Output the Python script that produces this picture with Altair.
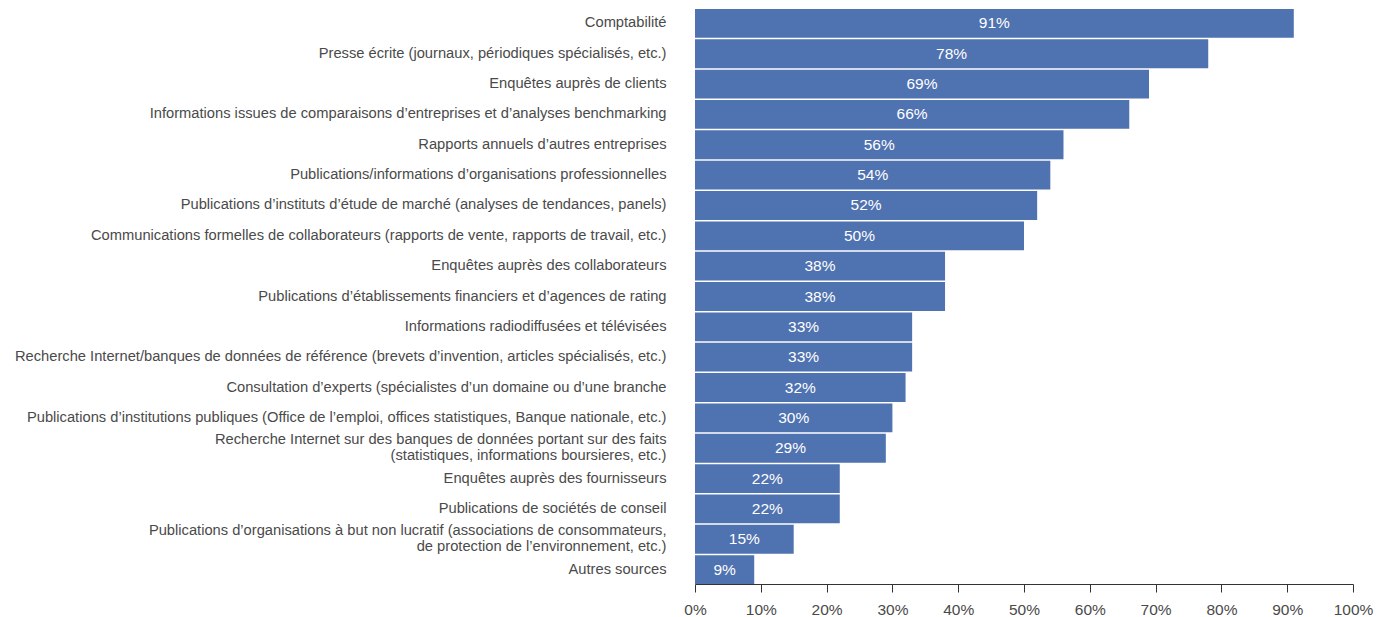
import altair as alt
import pandas as pd

categories = [
    "Comptabilité",
    "Presse écrite (journaux, périodiques spécialisés, etc.)",
    "Enquêtes auprès de clients",
    "Informations issues de comparaisons d’entreprises et d’analyses benchmarking",
    "Rapports annuels d’autres entreprises",
    "Publications/informations d’organisations professionnelles",
    "Publications d’instituts d’étude de marché (analyses de tendances, panels)",
    "Communications formelles de collaborateurs (rapports de vente, rapports de travail, etc.)",
    "Enquêtes auprès des collaborateurs",
    "Publications d’établissements financiers et d’agences de rating",
    "Informations radiodiffusées et télévisées",
    "Recherche Internet/banques de données de référence (brevets d’invention, articles spécialisés, etc.)",
    "Consultation d’experts (spécialistes d’un domaine ou d’une branche",
    "Publications d’institutions publiques (Office de l’emploi, offices statistiques, Banque nationale, etc.)",
    "Recherche Internet sur des banques de données portant sur des faits|(statistiques, informations boursieres, etc.)",
    "Enquêtes auprès des fournisseurs",
    "Publications de sociétés de conseil",
    "Publications d’organisations à but non lucratif (associations de consommateurs,|de protection de l’environnement, etc.)",
    "Autres sources",
]
values = [91, 78, 69, 66, 56, 54, 52, 50, 38, 38, 33, 33, 32, 30, 29, 22, 22, 15, 9]
tick_values = [0, 10, 20, 30, 40, 50, 60, 70, 80, 90, 100]

df = pd.DataFrame({"cat": categories, "value": values})

FONT = "Liberation Sans"
BAR = "#4f72b0"

y_enc = alt.Y(
    "cat:N",
    sort=None,
    title=None,
    scale=alt.Scale(paddingInner=0.05, paddingOuter=0),
    axis=alt.Axis(
        ticks=False,
        domain=False,
        labelPadding=29,
        labelLimit=0,
        labelFontSize=14.7,
        labelColor="#4a4a4a",
        labelFont=FONT,
        labelExpr="split(datum.label, '|')",
        labelLineHeight=16,
        labelOffset={"condition": {"test": "indexof(datum.value, '|') >= 0", "value": -8}, "value": 0},
    ),
)
x_scale = alt.Scale(domain=[0, 100], nice=False)

bars = alt.Chart(df).mark_bar(color=BAR).encode(
    x=alt.X(
        "value:Q",
        scale=x_scale,
        title=None,
        axis=alt.Axis(
            values=tick_values,
            labelExpr="datum.value + '%'",
            grid=False,
            tickSize=8,
            tickColor="#333333",
            domainColor="#333333",
            labelFontSize=15.5,
            labelColor="#4a4a4a",
            labelFont=FONT,
            labelPadding=10,
            labelFlush=False,
        ),
    ),
    y=y_enc,
)

text = alt.Chart(df).transform_calculate(
    mid="datum.value / 2", lab="datum.value + '%'"
).mark_text(color="white", fontSize=15.5, font=FONT, baseline="middle").encode(
    x=alt.X("mid:Q", scale=x_scale),
    y=alt.Y("cat:N", sort=None),
    text="lab:N",
)

chart = (
    alt.layer(bars, text)
    .properties(
        width=658,
        height=575,
        autosize=alt.AutoSizeParams(type="none"),
        padding={"left": 687, "top": 1, "right": 30, "bottom": 35},
    )
    .configure_view(stroke=None)
)

chart.save("out.html", embed_options={"renderer": "svg", "actions": False})
